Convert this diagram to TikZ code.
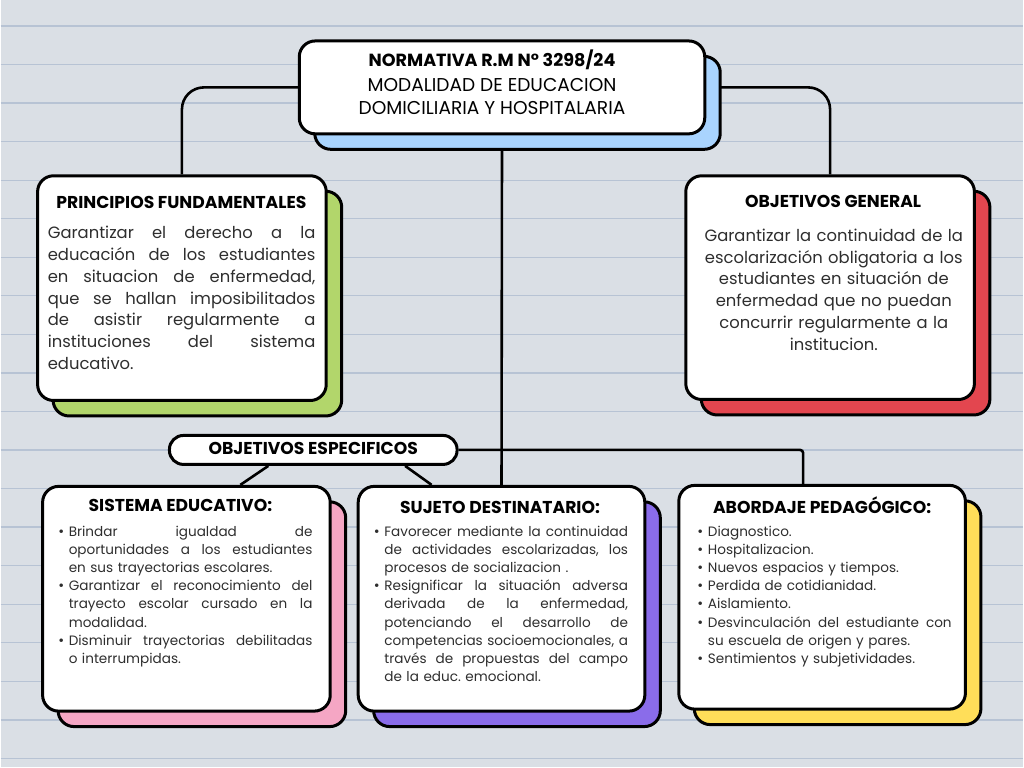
\documentclass[tikz,border=0pt]{standalone}
\usepackage{fontspec}
\setmainfont{Poppins}
\usetikzlibrary{calc}
\definecolor{bgc}{HTML}{DADFE5}
\definecolor{linec}{HTML}{B7C3D4}
\definecolor{cblue}{HTML}{A9D4FE}
\definecolor{cgreen}{HTML}{B2D66B}
\definecolor{cred}{HTML}{E3464F}
\definecolor{cpink}{HTML}{F5A6C4}
\definecolor{cpurple}{HTML}{8A6CEA}
\definecolor{cyellow}{HTML}{FFDE59}
\definecolor{txt}{HTML}{2E2E2E}
\pgfdeclarelayer{back}
\pgfdeclarelayer{bg}
\pgfsetlayers{back,bg,main}
\frenchspacing
\tikzset{
  shadowbox/.style={draw=black, line width=3pt, rounded corners=16pt, inner sep=0pt},
  whitebox/.style={draw=black, fill=white, line width=3pt, rounded corners=16pt, inner sep=0pt},
  conn/.style={draw=black, line width=2.6pt},
  ttl/.style={font=\bfseries\fontsize{17.2}{19}\selectfont, inner sep=0pt, anchor=base, text=black},
  toptx/.style={font=\fontsize{18.6}{20}\selectfont, inner sep=0pt, anchor=base, text=black},
  bodytx/.style={font=\fontsize{16.4}{21.9}\selectfont, inner sep=0pt, anchor=base west, text=txt},
  listtx/.style={font=\fontsize{13.6}{18.1}\selectfont, inner sep=0pt, anchor=base west, text=txt, text width=254pt, align=left},
}
\newcommand{\mkcard}[6]{%
  \node[shadowbox, fill=#6, minimum width=#4pt, minimum height=#5pt] (#1s) at ({#2+15.5},{#3+15.5}) {};
  \node[whitebox, minimum width=#4pt, minimum height=#5pt] (#1) at (#2,#3) {};}
\newcommand{\jbox}[2]{\leavevmode\hbox to #1{\spaceskip=\fontdimen2\font plus 1fil\relax #2}}
\newcommand{\dotb}{\makebox[10pt][l]{\hspace*{-0.5pt}\scalebox{1.05}{•}}}
\newcommand{\jl}[1]{\jbox{268pt}{#1}}
\newcommand{\bj}[1]{\dotb\jbox{244pt}{#1}}
\newcommand{\cj}[1]{\hspace*{10pt}\jbox{244pt}{#1}}
\newcommand{\bL}[1]{\dotb#1}
\newcommand{\cL}[1]{\hspace*{10pt}#1}
\begin{document}
\begin{tikzpicture}[x=1pt,y=-1pt]
\begin{pgfonlayer}{back}
  \fill[bgc] (0,0) rectangle (1024,768);
  \foreach \k in {0,...,19}{\draw[linec,line width=1.3pt] (0,{26+38.6*\k}) -- (1024,{26+38.6*\k});}
\end{pgfonlayer}
\useasboundingbox (0,0) rectangle (1024,768);

% cards
\mkcard{top}{502}{87.5}{406}{93}{cblue}
\mkcard{pf}{181.5}{288.5}{289}{225}{cgreen}
\mkcard{og}{830.5}{288}{289}{224}{cred}
\mkcard{se}{186}{599.5}{288}{225}{cpink}
\mkcard{sd}{501.5}{599.5}{287}{225}{cpurple}
\mkcard{ab}{822.5}{598}{287}{224}{cyellow}
\node[whitebox, rounded corners=14pt, minimum width=288pt, minimum height=29pt] (oe) at (313,450.5) {};

% connectors
\begin{pgfonlayer}{bg}
  \draw[conn, rounded corners=22pt] (top.west) -| (pf.north);
  \draw[conn, rounded corners=22pt] (top.east) -| (og.north);
  \draw[conn] (top.south) -- (sd.north);
  \draw[conn, rounded corners=3pt] (oe.east) -| ([xshift=-19pt]ab.north);
  \draw[conn] ([xshift=-45pt]oe.south) -- ([xshift=54pt]se.north);
  \draw[conn] ([xshift=92pt]oe.south) -- ([xshift=-70pt]sd.north);
\end{pgfonlayer}

% top texts
\node[ttl, font=\bfseries\fontsize{17.6}{19}\selectfont] (t1) at (492,66.5) {NORMATIVA R.M N° 3298/24};
\node[toptx] (t2) at (492,91.5) {MODALIDAD DE EDUCACION};
\node[toptx] (t3) at (492,115) {DOMICILIARIA Y HOSPITALARIA};

% titles
\node[ttl] (pft) at (181,209) {PRINCIPIOS FUNDAMENTALES};
\node[ttl] (ogt) at (833.5,207.5) {OBJETIVOS GENERAL};
\node[ttl] (oet) at (313,455.5) {OBJETIVOS ESPECIFICOS};
\node[ttl] (set) at (180,511.7) {SISTEMA EDUCATIVO:};
\node[ttl] (sdt) at (500,514) {SUJETO DESTINATARIO:};
\node[ttl] (abt) at (822.5,514) {ABORDAJE PEDAGÓGICO:};

% bodies
\node[bodytx, text width=268pt, align=left] (pfb) at (47,238.7) {%
\jl{Garantizar el derecho a la}\\
\jl{educación de los estudiantes}\\
\jl{en situacion de enfermedad,}\\
\jl{que se hallan imposibilitados}\\
\jl{de asistir regularmente a}\\
\jl{instituciones del sistema}\\
educativo.};

\node[bodytx, text width=280pt, align=center] (ogb) at (694,241.5) {%
Garantizar la continuidad de la\\
escolarización obligatoria a los\\
estudiantes en situación de\\
enfermedad que no puedan\\
concurrir regularmente a la\\
institucion.};

\node[listtx] (seb) at (58,537.3) {%
\bj{Brindar igualdad de}\\
\cj{oportunidades a los estudiantes}\\
\cL{en sus trayectorias escolares.}\\
\bj{Garantizar el reconocimiento del}\\
\cj{trayecto escolar cursado en la}\\
\cL{modalidad.}\\
\bj{Disminuir trayectorias debilitadas}\\
\cL{o interrumpidas.}};

\node[listtx] (sdb) at (374,537.3) {%
\bj{Favorecer mediante la continuidad}\\
\cj{de actividades escolarizadas, los}\\
\cL{procesos de socializacion .}\\
\bj{Resignificar la situación adversa}\\
\cj{derivada de la enfermedad,}\\
\cj{potenciando el desarrollo de}\\
\cj{competencias socioemocionales, a}\\
\cj{través de propuestas del campo}\\
\cL{de la educ. emocional.}};

\node[listtx] (abb) at (698,537.3) {%
\bL{Diagnostico.}\\
\bL{Hospitalizacion.}\\
\bL{Nuevos espacios y tiempos.}\\
\bL{Perdida de cotidianidad.}\\
\bL{Aislamiento.}\\
\bj{Desvinculación del estudiante con}\\
\cL{su escuela de origen y pares.}\\
\bL{Sentimientos y subjetividades.}};
\end{tikzpicture}
\end{document}
